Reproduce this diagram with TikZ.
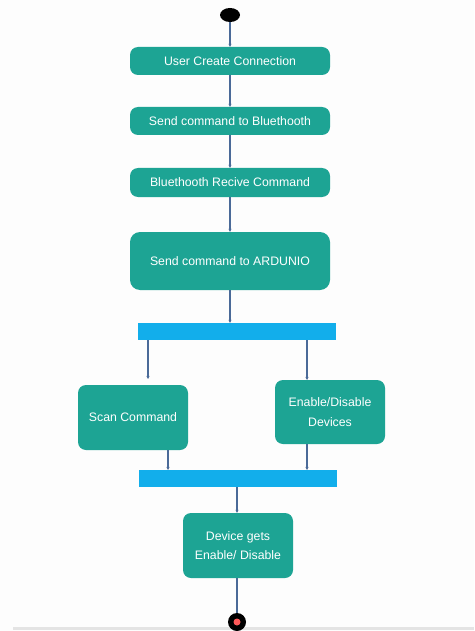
\documentclass[tikz,border=0pt]{standalone}
\usepackage{fontspec}
\setmainfont{Liberation Sans}
\usetikzlibrary{arrows.meta,shapes.geometric}
\definecolor{teal1}{HTML}{1DA494}
\definecolor{bar1c}{HTML}{12AEEB}
\definecolor{linec}{HTML}{4A6A98}
\definecolor{bgc}{HTML}{FDFDFD}
\definecolor{rulec}{HTML}{E4E4E4}
\begin{document}
\begin{tikzpicture}[x=1pt,y=-1pt,
  actbox/.style={rectangle,rounded corners=8pt,fill=teal1,text=white,
    font=\fontsize{12.3}{19.5}\selectfont,align=center,inner sep=0pt},
  barbox/.style={rectangle,fill=bar1c,inner sep=0pt,minimum width=198pt,minimum height=17pt},
  conn/.style={draw=linec,line width=1.1pt,-{Stealth[length=3pt,width=3pt]}},
  plainconn/.style={draw=linec,line width=1.1pt}]
\useasboundingbox (0,0) rectangle (474,631);
\fill[bgc] (0,0) rectangle (474,631);
\node[ellipse,fill=black,minimum width=20pt,minimum height=14pt,inner sep=0pt] (start) at (230,15) {};
\node[actbox,minimum width=200pt,minimum height=28pt] (b1) at (230,61) {User Create Connection};
\node[actbox,minimum width=200pt,minimum height=28pt] (b2) at (230,121) {Send command to Bluethooth};
\node[actbox,minimum width=200pt,minimum height=29pt] (b3) at (230,182.5) {Bluethooth Recive Command};
\node[actbox,minimum width=200pt,minimum height=58pt,rounded corners=10pt] (b4) at (230,261) {Send command to ARDUNIO};
\node[barbox] (bar1) at (237,331.5) {};
\node[actbox,minimum width=110pt,minimum height=65pt] (scan) at (133,417.5) {Scan Command};
\node[actbox,minimum width=110pt,minimum height=64pt] (enable) at (330,412) {Enable/Disable\\Devices};
\node[barbox] (bar2) at (237.5,478.5) {};
\node[actbox,minimum width=110pt,minimum height=65pt] (dev) at (238,545.5) {Device gets\\Enable/ Disable};
\draw[rulec,line width=3pt] (13,628.5) -- (474,628.5);
\node[circle,fill=black,minimum size=18pt,inner sep=0pt] (end) at (237,622) {};
\fill[red!65!white] (end.center) circle (3.5pt);
\coordinate (a1) at (148,379);
\coordinate (a2) at (307,380);
\coordinate (c1) at (168,470);
\coordinate (c2) at (307,470);
\coordinate (d1) at (237,0);
\path[conn] (start) -- (b1);
\path[conn] (b1) -- (b2);
\path[conn] (b2) -- (b3);
\path[conn] (b3) -- (b4);
\path[conn] (b4) -- (b4.south |- bar1.north);
\path[conn] (bar1.south -| a1) -- (a1);
\path[conn] (bar1.south -| a2) -- (a2);
\path[conn] (scan.south -| c1) -- (c1);
\path[conn] (enable.south -| c2) -- (c2);
\path[conn] (bar2.south -| d1) -- (dev.north -| d1);
\path[plainconn] (dev.south -| d1) -- (end.north -| d1);
\end{tikzpicture}
\end{document}
